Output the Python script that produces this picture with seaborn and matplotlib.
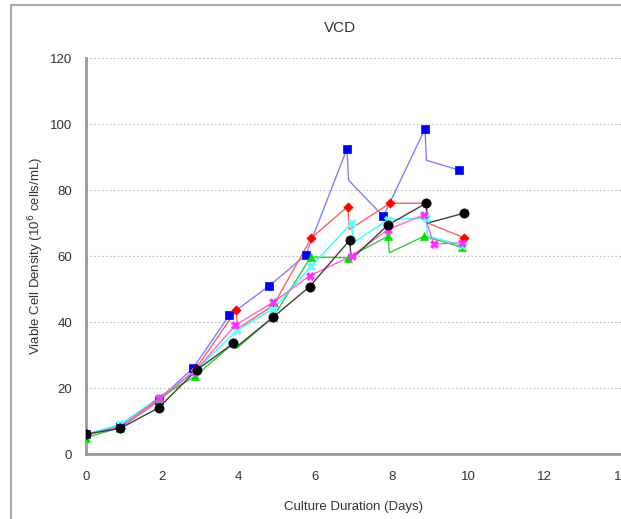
import matplotlib
matplotlib.use("Agg")
import matplotlib.pyplot as plt
import matplotlib.patches as mpatches
import numpy as np
import pandas as pd
import seaborn as sns

# sample days, VCD before feed, VCD after feed (nan = no visible feed drop)
blue_days = [0, 0.9, 1.9, 2.8, 3.75, 4.8, 5.75, 6.83, 7.78, 8.87, 9.77]
blue_vcd = [6, 8.5, 16.5, 26, 42, 51, 60.3, 92.5, 72, 98.5, 86]
blue_post = [np.nan, np.nan, np.nan, np.nan, np.nan, np.nan, np.nan, 83, np.nan, 89, np.nan]

red_days = [0, 0.9, 1.9, 2.85, 3.93, 4.9, 5.9, 6.85, 7.96, 8.9, 9.9]
red_vcd = [6, 8, 16, 25.5, 43.5, 45, 65.5, 75, 76, 76, 65.5]
red_post = [np.nan, np.nan, np.nan, np.nan, 38, np.nan, np.nan, 68, np.nan, 70, np.nan]

green_days = [0, 0.9, 1.9, 2.85, 3.9, 4.9, 5.88, 6.85, 7.9, 8.85, 9.83]
green_vcd = [5, 8, 17, 23.5, 34, 41.5, 59.7, 59.5, 66, 66, 62.7]
green_post = [np.nan, np.nan, np.nan, np.nan, 32, np.nan, np.nan, np.nan, 61, np.nan, np.nan]

cyan_days = [0, 0.9, 1.9, 2.85, 3.95, 4.9, 5.9, 6.95, 7.9, 8.9, 9.85]
cyan_vcd = [6, 9, 17, 25, 37.5, 44, 57, 70, 71, 71.5, 63.3]
cyan_post = [np.nan, np.nan, np.nan, np.nan, np.nan, np.nan, np.nan, 64, np.nan, 66, np.nan]

mag_days = [0, 0.9, 1.9, 2.85, 3.9, 4.9, 5.85, 6.95, 7.9, 8.85, 9.1, 9.85]
mag_vcd = [6, 8, 17, 25, 39, 46, 54, 60, 68, 72.5, 63.6, 64]
mag_post = [np.nan] * 12

black_days = [0, 0.9, 1.9, 2.9, 3.85, 4.9, 5.85, 6.9, 7.9, 8.9, 9.9]
black_vcd = [6, 7.8, 14, 25.5, 33.5, 41.5, 50.7, 64.8, 69.4, 76, 73]
black_post = [np.nan, np.nan, np.nan, np.nan, 32, np.nan, np.nan, 59, np.nan, 70, np.nan]

series = [
    # days, vcd, post, marker colour, line colour, marker, size
    (blue_days, blue_vcd, blue_post, "#0000FF", "#8080FF", "s", 34),
    (red_days, red_vcd, red_post, "#FF0000", "#FF6060", "D", 22),
    (green_days, green_vcd, green_post, "#00E000", "#33CC33", "^", 32),
    (cyan_days, cyan_vcd, cyan_post, "#66FFFF", "#33FFFF", "X", 36),
    (mag_days, mag_vcd, mag_post, "#FF33FF", "#FF66CC", "X", 32),
    (black_days, black_vcd, black_post, "#000000", "#404040", "o", 44),
]

sns.set_style("white")
plt.rcParams["font.family"] = ["Liberation Sans", "DejaVu Sans"]

fig = plt.figure(figsize=(6.21, 5.19), dpi=100)
ax = fig.add_axes([0.1385, 0.1252, 0.8615, 0.763])

# grey frame round the chart (cropped on the right and bottom)
fig.patches.append(mpatches.Rectangle((11 / 621, -0.1), 1.2, 1.1 - 5 / 519,
                                      transform=fig.transFigure, fill=False,
                                      edgecolor="#AAAAAA", lw=1.5))

for days, vcd, post, mcol, lcol, mk, sz in series:
    # line path with the feed drop right after each sample
    lx, ly = [], []
    for d, v, p in zip(days, vcd, post):
        lx.append(d)
        ly.append(v)
        if not np.isnan(p):
            lx.append(d + 0.04)
            ly.append(p)
    path = pd.DataFrame({"day": lx, "vcd": ly})
    sns.lineplot(data=path, x="day", y="vcd", sort=False, estimator=None,
                 color=lcol, lw=1.0, ax=ax)
    pts = pd.DataFrame({"day": days, "vcd": vcd})
    sns.scatterplot(data=pts, x="day", y="vcd", marker=mk, s=sz, color=mcol,
                    edgecolor=mcol, linewidth=0.5, ax=ax, zorder=3)

ax.set_xlim(0, 14)
ax.set_ylim(0, 120)
ax.set_xticks(range(0, 15, 2))
ax.set_yticks(range(0, 121, 20))
ax.yaxis.grid(True, linestyle=(0, (1.5, 2)), color="#BBBBBB", lw=0.8)
ax.set_axisbelow(True)

for s in ["top", "right"]:
    ax.spines[s].set_visible(False)
for s in ["left", "bottom"]:
    ax.spines[s].set_color("#999999")
    ax.spines[s].set_linewidth(2)

ax.tick_params(axis="x", direction="inout", length=6, color="#777777",
               labelsize=9.5, labelcolor="#333333", pad=9)
ax.tick_params(axis="y", direction="out", length=4, color="#777777",
               labelsize=9.5, labelcolor="#333333", pad=6)

ax.set_xlabel("Culture Duration (Days)", fontsize=9.5, color="#333333", labelpad=13)
ax.set_ylabel("Viable Cell Density (10$^6$ cells/mL)", fontsize=9.5,
              color="#333333", labelpad=3)
fig.text(340 / 621, 1 - 28 / 519, "VCD", ha="center", va="center",
         fontsize=11, color="#333333")

fig.savefig("out.png", dpi=100)
